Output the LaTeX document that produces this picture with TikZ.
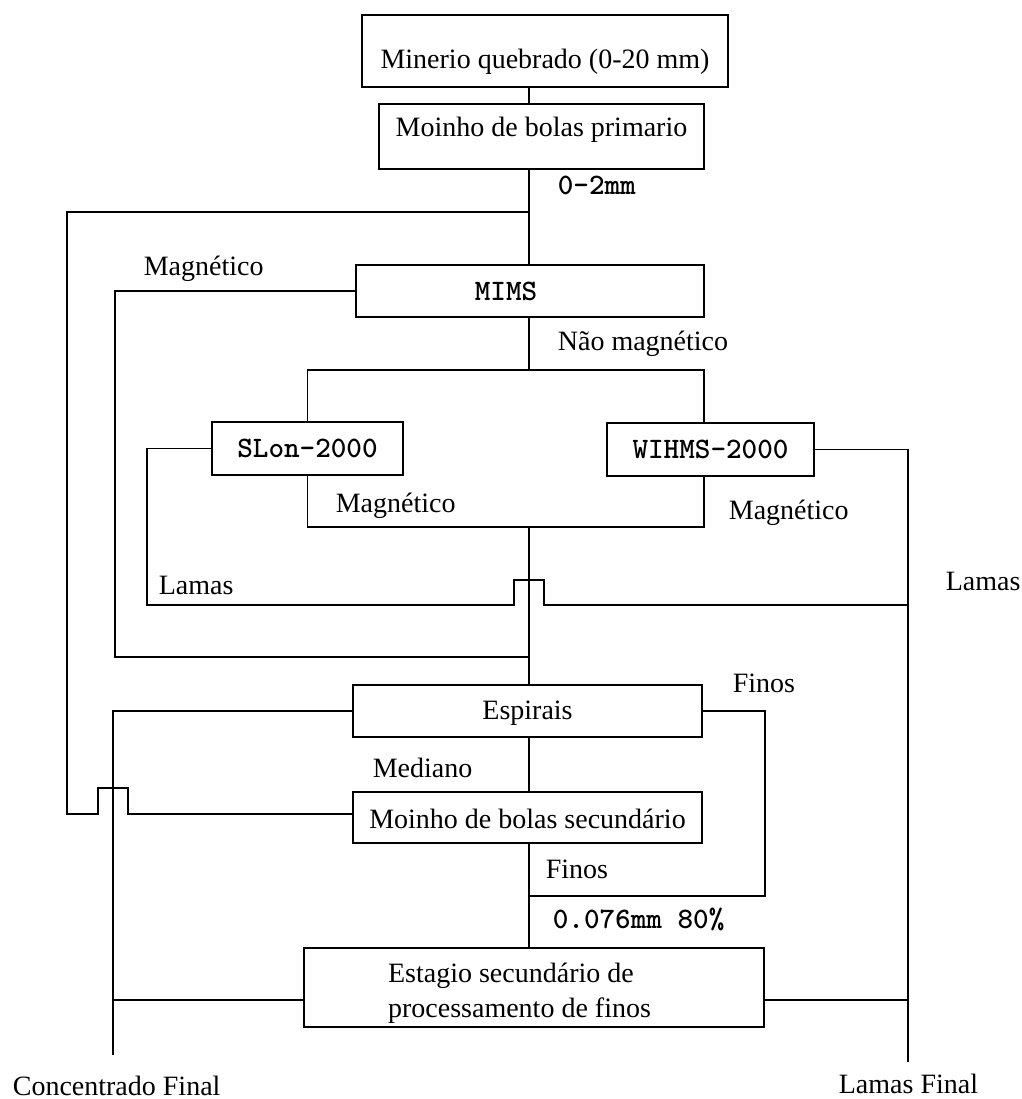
\documentclass[tikz,border=0pt]{standalone}
\usepackage{fontspec}
\setmainfont{Liberation Serif}
\usetikzlibrary{calc}
% lowered/raised text of zero height, so the box geometry alone decides the node size
\newcommand{\boxtext}[2]{\raisebox{#1}[0pt][0pt]{#2}}
\begin{document}
\begin{tikzpicture}[x=1pt,y=-1pt,
  line width=1.7pt, line join=miter,
  serif/.style={font=\fontsize{28}{35}\selectfont},
  mono/.style={font=\fontsize{29.7}{35}\selectfont\ttfamily\bfseries},
  box/.style={draw, rectangle, inner sep=0pt},
  lbl/.style={inner sep=0pt, anchor=base west}]
\useasboundingbox (0,0) rectangle (1021,1099);

% process units
\node[box, serif, minimum width=366, minimum height=72] (m1) at (545,51)
  {\boxtext{-18pt}{Minerio quebrado (0-20 mm)}};
\node[box, serif, minimum width=325, minimum height=65] (m2) at (541.5,136.5)
  {\boxtext{0pt}{Moinho de bolas primario}};
\node[box, mono, minimum width=348, minimum height=52] (mims) at (530,291)
  {\hspace*{-48pt}\boxtext{-9pt}{MIMS}};
\node[box, mono, minimum width=191, minimum height=53] (slon) at (307.5,448.5)
  {\boxtext{-9pt}{SLon-2000}};
\node[box, mono, minimum width=207, minimum height=53] (wihms) at (710.5,449.5)
  {\boxtext{-9pt}{WIHMS-2000}};
\node[box, serif, minimum width=349, minimum height=52] (esp) at (527.5,711)
  {\boxtext{-8pt}{Espirais}};
\node[box, serif, minimum width=349, minimum height=51] (msec) at (527.5,817.5)
  {\boxtext{-10.5pt}{Moinho de bolas secundário}};
\node[box, serif, minimum width=460, minimum height=79] (est) at (534,987.5)
  {\hspace*{-29pt}\boxtext{5.5pt}{\begin{tabular}[t]{@{}l@{}}Estagio secundário de\\processamento de finos\end{tabular}}};

% rails and levels of the flow lines
\coordinate (trunk) at (529,0);
\coordinate (xL1) at (67,0);
\coordinate (xL2) at (115,0);
\coordinate (xL3) at (147,0);
\coordinate (xC) at (113,0);
\coordinate (xW) at (704,0);
\coordinate (xF) at (765,0);
\coordinate (xR) at (908,0);
\coordinate (yTop) at (0,212);
\coordinate (ySplit) at (0,370);
\coordinate (yMag) at (0,527);
\coordinate (yLam) at (0,605);
\coordinate (yRet) at (0,657);
\coordinate (yFeed) at (0,814);
\coordinate (yFin) at (0,896);
\coordinate (yTail) at (0,1000);
\coordinate (concEnd) at (113,1055);
\coordinate (lamasEnd) at (908,1062);

% main trunk
\draw (m1.south -| trunk) -- (m2.north -| trunk);
\draw (m2.south -| trunk) -- (mims.north -| trunk);
\draw (mims.south -| trunk) -- (trunk |- ySplit);
\draw (trunk |- yMag) -- (esp.north -| trunk);
\draw (esp.south -| trunk) -- (msec.north -| trunk);
\draw (msec.south -| trunk) -- (est.north -| trunk);

% 0-2 mm feed bypass to the secondary mill, hopping over the concentrate line
\draw (trunk |- yTop) -| (xL1 |- yFeed)
  -- ($(xC |- yFeed)+(-15,0)$) -- ++(0,-26) -- ++(30,0) -- ++(0,26)
  -- (msec.west |- yFeed);

% MIMS magnetic product back to the trunk
\draw (mims.west) -| (xL2 |- yRet) -- (trunk |- yRet);

% split to SLon and WIHMS
\draw (slon.north) |- (xW |- ySplit) -- (wihms.north -| xW);

% magnetic products joined
\draw (slon.south) |- (xW |- yMag) -- (wihms.south -| xW);

% slimes
\draw (slon.west) -| (xL3 |- yLam)
  -- ($(trunk |- yLam)+(-15,0)$) -- ++(0,-25) -- ++(30,0) -- ++(0,25)
  -- (xR |- yLam);
\draw (wihms.east) -| (lamasEnd);

% spirals
\draw (esp.west) -| (concEnd);
\draw (esp.east) -| (xF |- yFin) -- (trunk |- yFin);

% fines stage outputs
\draw (est.west |- yTail) -- (xC |- yTail);
\draw (est.east |- yTail) -- (xR |- yTail);

% stream labels
\node[lbl, mono]  (l02)   at (557,195)  {0-2mm};
\node[lbl, serif] (lMagA) at (143,275)  {Magnético};
\node[lbl, serif] (lNao)  at (557,350)  {Não magnético};
\node[lbl, serif] (lMagS) at (335,512)  {Magnético};
\node[lbl, serif] (lMagW) at (728,519)  {Magnético};
\node[lbl, serif] (lLamL) at (158,594)  {Lamas};
\node[lbl, serif] (lLamR) at (945,590)  {Lamas};
\node[lbl, serif] (lFinA) at (732,692)  {Finos};
\node[lbl, serif] (lMed)  at (372,777)  {Mediano};
\node[lbl, serif] (lFinB) at (545,878)  {Finos};
\node[lbl, mono]  (l076)  at (552,928)  {0.076mm 80\%};
\node[lbl, serif] (lConc) at (12,1095)  {Concentrado Final};
\node[lbl, serif] (lLamF) at (838,1093) {Lamas Final};
\end{tikzpicture}
\end{document}
